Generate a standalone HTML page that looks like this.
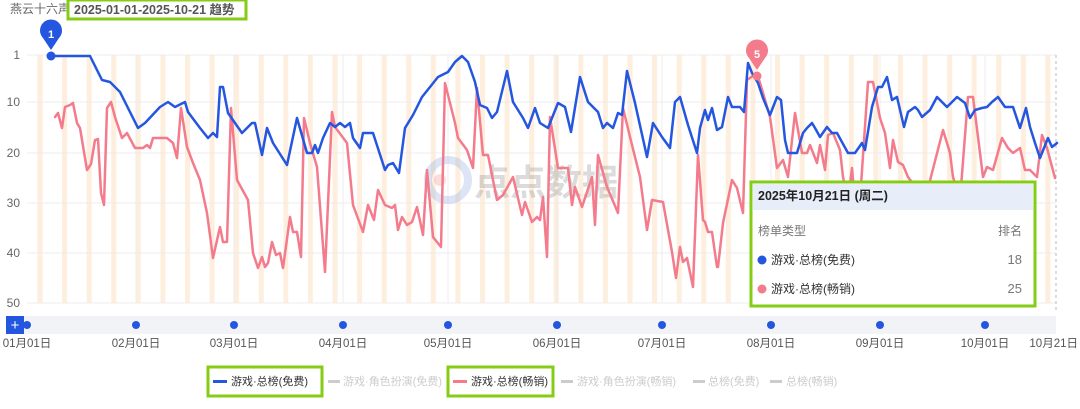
<!DOCTYPE html>
<html><head><meta charset="utf-8"><style>
body{margin:0;background:#fff;width:1080px;height:404px;overflow:hidden;font-family:"Liberation Sans","Noto Sans CJK SC",sans-serif}
</style></head><body>
<svg width="1080" height="404" xmlns="http://www.w3.org/2000/svg" font-family="Liberation Sans, Noto Sans CJK SC, sans-serif">
<defs>
<pattern id="wk" patternUnits="userSpaceOnUse" x="37.5" y="0" width="24.584" height="404">
<rect x="0" y="0" width="5" height="404" fill="#fdeedd"/>
</pattern>
</defs>
<rect width="1080" height="404" fill="#fff"/>
<text x="10" y="13" font-size="12" fill="#666">燕云十六声</text>
<rect x="68" y="0" width="178" height="19" fill="#fff" stroke="#84cc16" stroke-width="3"/>
<text x="74" y="14" font-size="12.5" fill="#555" font-weight="bold">2025-01-01-2025-10-21 趋势</text>
<rect x="27" y="55" width="1029" height="248" fill="url(#wk)"/>
<g stroke="#ececec" stroke-width="1">
<line x1="27" y1="55" x2="1056" y2="55"/><line x1="27" y1="102" x2="1056" y2="102"/><line x1="27" y1="153" x2="1056" y2="153"/><line x1="27" y1="203" x2="1056" y2="203"/><line x1="27" y1="253" x2="1056" y2="253"/><line x1="27" y1="303" x2="1056" y2="303"/>
<line x1="136" y1="55" x2="136" y2="303"/><line x1="234" y1="55" x2="234" y2="303"/><line x1="343" y1="55" x2="343" y2="303"/><line x1="448" y1="55" x2="448" y2="303"/><line x1="557" y1="55" x2="557" y2="303"/><line x1="662" y1="55" x2="662" y2="303"/><line x1="771" y1="55" x2="771" y2="303"/><line x1="880" y1="55" x2="880" y2="303"/><line x1="985" y1="55" x2="985" y2="303"/>
</g>
<line x1="1056" y1="55" x2="1056" y2="310" stroke="#bbb" stroke-dasharray="3,3"/>
<g font-size="12" fill="#666" text-anchor="end">
<text x="20" y="59">1</text><text x="20" y="106">10</text><text x="20" y="157">20</text><text x="20" y="207">30</text><text x="20" y="257">40</text><text x="20" y="307">50</text>
</g>
<g opacity="0.35">
<circle cx="448" cy="180" r="20" fill="none" stroke="#9db4e8" stroke-width="8"/>
<circle cx="440" cy="180" r="6" fill="#f5a0a0"/>
<text x="474" y="195" font-size="36" fill="#999" font-weight="bold">点点数据</text>
</g>
<polyline fill="none" stroke="#f47b8b" stroke-width="2.5" stroke-linejoin="round" stroke-linecap="round" points="55,117 58,113 62,128 65,107 70,105 73,103 77,123 80,128 87,170 91,164 95,140 98,139 101,193 104,205 107,108 111,102 115,117 122,138 127,133 135,148 143,148 147,145 150,148 153,138 167,138 173,143 177,158 181,108 187,147 193,163 200,180 207,213 213,258 220,227 223,242 227,242 231,108 237,180 248,200 253,253 258,268 262,257 265,267 268,263 272,242 276,255 280,253 283,268 290,217 293,232 297,232 301,257 304,118 310,143 317,167 325,272 332,112 335,127 347,143 353,205 363,232 368,205 374,220 378,190 385,205 392,208 395,205 398,230 402,217 407,225 412,222 417,207 423,235 427,170 433,237 441,247 445,83 455,123 458,138 467,150 473,168 477,88 483,155 488,155 497,200 503,195 513,177 522,215 525,202 532,222 537,217 540,220 543,197 547,257 550,117 558,168 568,168 572,205 575,187 582,207 592,177 595,225 598,155 607,187 618,213 623,108 630,137 640,177 647,230 652,200 663,202 672,252 676,278 680,247 683,262 687,258 693,287 698,155 703,220 705,222 708,232 712,232 717,267 718,267 723,223 732,180 737,188 743,213 747,80 757,73 763,93 770,117 777,168 783,160 788,177 795,113 802,153 807,153 810,145 817,163 820,145 825,170 828,135 833,133 840,150 843,177 848,200 852,168 853,180 860,200 868,82 873,82 880,118 885,133 890,168 893,140 898,162 903,165 908,177 925,200 943,130 950,153 953,177 960,200 968,97 973,97 983,177 987,167 993,170 1002,138 1008,148 1013,153 1020,148 1025,170 1030,170 1037,177 1042,135 1047,148 1055,178"/>
<polyline fill="none" stroke="#2456e0" stroke-width="2.5" stroke-linejoin="round" stroke-linecap="round" points="51,56 90,56 102,80 110,82 120,92 130,112 138,128 145,123 160,107 168,102 175,107 185,102 188,112 200,128 208,138 213,133 217,137 220,87 223,87 228,113 242,133 252,123 255,123 262,155 267,128 273,143 287,165 297,118 307,153 312,153 315,145 318,153 323,138 330,123 335,127 340,123 345,127 350,123 353,138 360,148 363,133 373,133 385,170 388,165 393,163 399,173 405,128 413,115 422,97 438,77 448,72 455,62 462,56 468,62 475,82 480,105 487,108 492,118 497,112 507,71 513,102 523,118 528,128 535,108 540,123 548,128 558,103 565,107 571,132 580,77 588,102 598,112 603,128 607,123 613,128 618,113 622,115 627,71 635,103 647,157 653,123 662,137 670,148 675,102 680,97 688,125 697,153 700,128 705,110 708,120 712,108 717,130 722,127 728,97 732,107 740,107 744,112 748,63 752,73 758,83 763,98 770,115 777,97 781,100 785,140 788,153 797,153 803,133 807,128 812,123 815,128 820,137 827,127 832,133 837,133 848,153 855,153 862,143 865,150 872,107 878,87 882,87 887,77 892,100 897,97 904,127 908,112 915,107 918,110 922,117 930,110 937,97 947,107 957,97 965,103 970,118 975,110 982,108 987,107 992,102 998,97 1005,107 1013,107 1020,128 1026,108 1030,127 1035,143 1040,158 1048,138 1052,147 1057,143"/>
<circle cx="51" cy="56" r="4.5" fill="#2456e0"/>
<path d="M51,50 L43,38 A11,11 0 1 1 59,38 Z" fill="#2456e0"/>
<text x="51" y="38" font-size="11" fill="#fff" font-weight="bold" text-anchor="middle">1</text>
<circle cx="757" cy="76" r="4.5" fill="#f47b8b"/>
<path d="M757,70 L749,58 A11,11 0 1 1 765,58 Z" fill="#f47b8b"/>
<text x="757" y="58" font-size="11" fill="#fff" font-weight="bold" text-anchor="middle">5</text>
<rect x="6" y="316" width="1050" height="18" fill="#f1f3f7"/>
<rect x="6" y="316" width="18" height="18" fill="#2456e0"/>
<text x="15" y="330" font-size="15" fill="#fff" text-anchor="middle">+</text>
<g fill="#2456e0"><circle cx="27" cy="325" r="4"/><circle cx="136" cy="325" r="4"/><circle cx="234" cy="325" r="4"/><circle cx="343" cy="325" r="4"/><circle cx="448" cy="325" r="4"/><circle cx="557" cy="325" r="4"/><circle cx="662" cy="325" r="4"/><circle cx="771" cy="325" r="4"/><circle cx="880" cy="325" r="4"/><circle cx="985" cy="325" r="4"/></g>
<g font-size="11.5" fill="#555" text-anchor="middle">
<text x="27" y="347">01月01日</text><text x="136" y="347">02月01日</text><text x="234" y="347">03月01日</text><text x="343" y="347">04月01日</text><text x="448" y="347">05月01日</text><text x="557" y="347">06月01日</text><text x="662" y="347">07月01日</text><text x="771" y="347">08月01日</text><text x="880" y="347">09月01日</text><text x="985" y="347">10月01日</text><text x="1078" y="347" text-anchor="end">10月21日</text>
</g>
<rect x="208" y="367" width="114" height="29" fill="#fff" stroke="#84cc16" stroke-width="3"/>
<rect x="448" y="367" width="105" height="29" fill="#fff" stroke="#84cc16" stroke-width="3"/>
<g font-size="11">
<rect x="213" y="380" width="14" height="3" fill="#2456e0"/><text x="231" y="385" fill="#333">游戏·总榜(免费)</text>
<rect x="328" y="380" width="12" height="3" fill="#ccc"/><text x="343" y="385" fill="#ccc">游戏·角色扮演(免费)</text>
<rect x="453" y="380" width="14" height="3" fill="#f47b8b"/><text x="471" y="385" fill="#333">游戏·总榜(畅销)</text>
<rect x="561" y="380" width="12" height="3" fill="#ccc"/><text x="577" y="385" fill="#ccc">游戏·角色扮演(畅销)</text>
<rect x="693" y="380" width="12" height="3" fill="#ccc"/><text x="708" y="385" fill="#ccc">总榜(免费)</text>
<rect x="770" y="380" width="12" height="3" fill="#ccc"/><text x="786" y="385" fill="#ccc">总榜(畅销)</text>
</g>
<rect x="751" y="182" width="284" height="124" fill="#fff" stroke="#84cc16" stroke-width="3"/>
<rect x="753" y="184" width="280" height="26" fill="#e8eef9"/>
<text x="758" y="200" font-size="12.5" font-weight="bold" fill="#222">2025年10月21日 (周二)</text>
<text x="758" y="235" font-size="12" fill="#777">榜单类型</text>
<text x="1022" y="235" font-size="12" fill="#777" text-anchor="end">排名</text>
<circle cx="762" cy="260" r="4.5" fill="#2456e0"/><text x="771" y="264" font-size="12" fill="#333">游戏·总榜(免费)</text><text x="1022" y="264" font-size="13" fill="#777" text-anchor="end">18</text>
<circle cx="762" cy="289" r="4.5" fill="#f47b8b"/><text x="771" y="293" font-size="12" fill="#333">游戏·总榜(畅销)</text><text x="1022" y="293" font-size="13" fill="#777" text-anchor="end">25</text>
</svg>
</body></html>
